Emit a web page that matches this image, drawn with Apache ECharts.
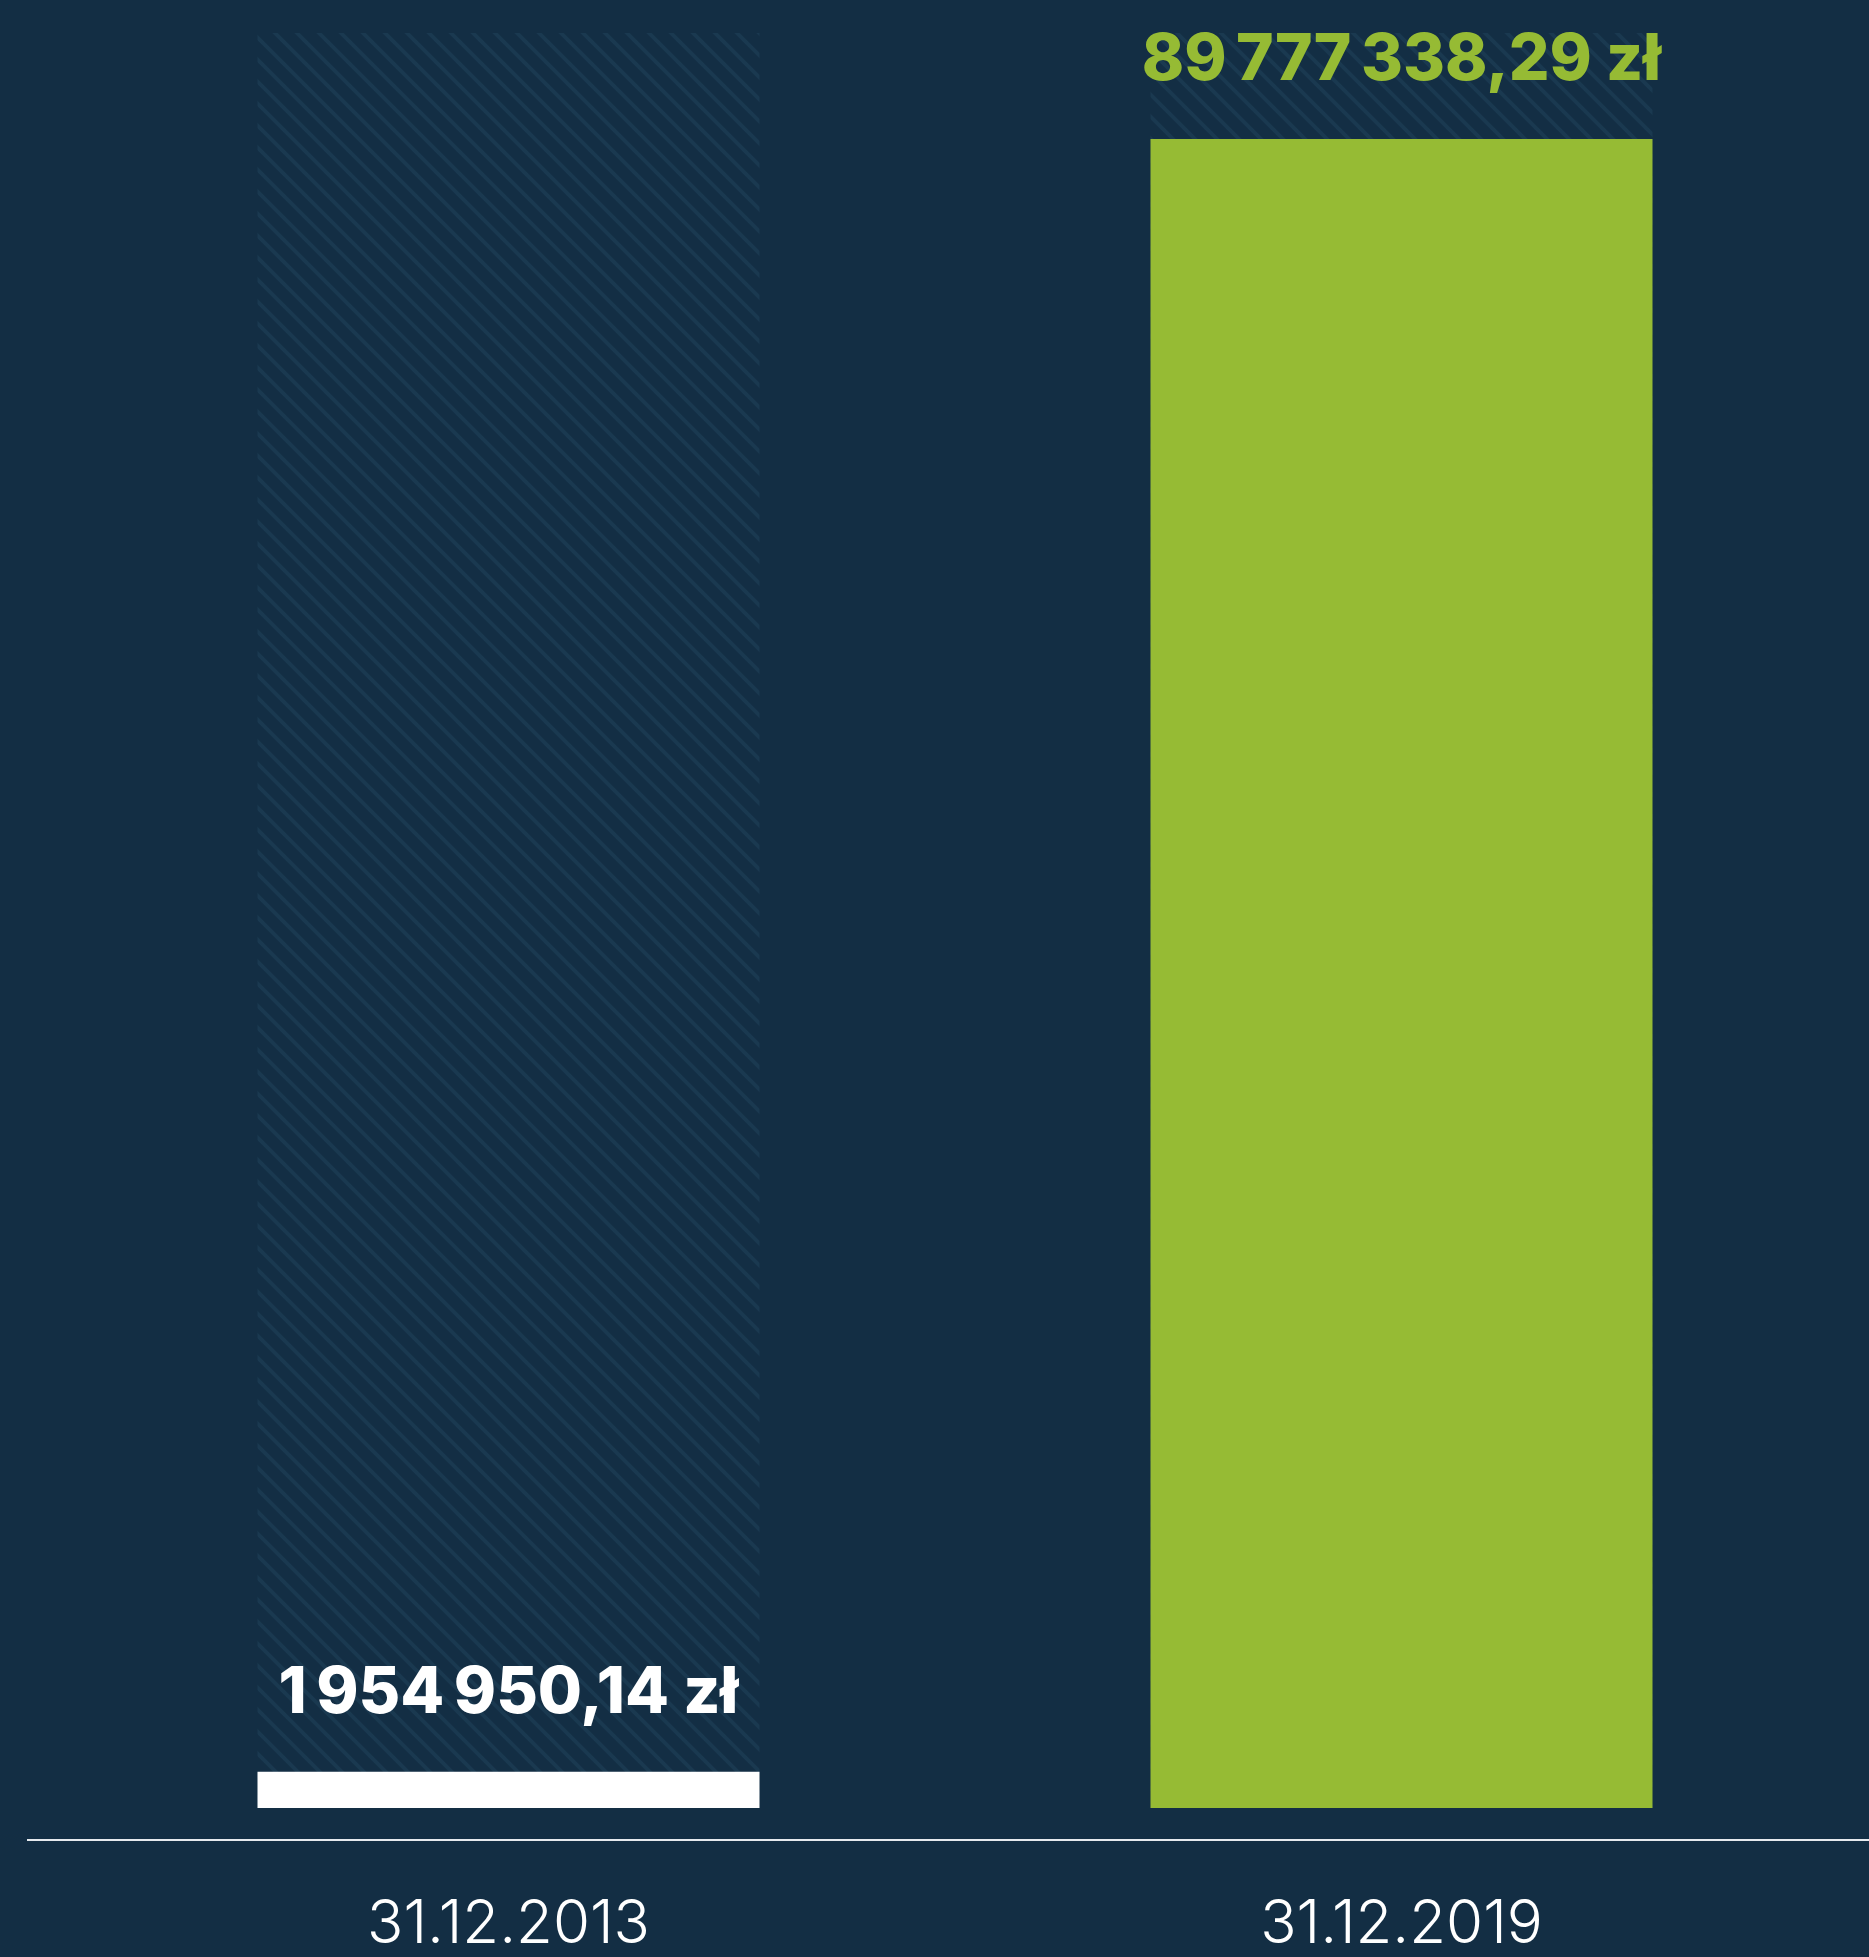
<!DOCTYPE html>
<html lang="pl">
<head>
  <meta charset="UTF-8">
  <title>Kapitał</title>
  <script src="https://cdn.jsdelivr.net/npm/echarts@6/dist/echarts.min.js"></script>
  <style>
    html, body { margin: 0; padding: 0; background: #132e44; }
    #chart { width: 1869px; height: 1957px; }
  </style>
</head>
<body>
<div id="chart"></div>
<script>
  // dane
  var categories = ['31.12.2013', '31.12.2019'];
  var values = [1954950.14, 89777338.29];
  var valueLabels = ['1\u202F954\u202F950,14 zł', '89\u202F777\u202F338,29 zł'];
  var barColors = ['#ffffff', '#96bb34'];
  var labelColors = ['#ffffff', '#96bb34'];

  // wzór ukośnych linii na tło słupków
  function makeHatch() {
    var s = 22;
    var c = document.createElement('canvas');
    c.width = s; c.height = s;
    var ctx = c.getContext('2d');
    ctx.fillStyle = '#132e44';
    ctx.fillRect(0, 0, s, s);
    ctx.strokeStyle = '#1a3950';
    ctx.lineWidth = 4;
    ctx.beginPath();
    ctx.moveTo(-2, -2); ctx.lineTo(s + 2, s + 2);
    ctx.moveTo(-2 - s, -2); ctx.lineTo(2, s + 2);
    ctx.moveTo(s - 2, -2); ctx.lineTo(2 * s + 2, s + 2);
    ctx.stroke();
    return c;
  }

  var chart = echarts.init(document.getElementById('chart'));
  chart.setOption({
    backgroundColor: '#132e44',
    animation: false,
    grid: { left: 62, right: 21, top: 33, bottom: 149, outerBoundsMode: 'none' },
    xAxis: {
      type: 'category',
      data: categories,
      axisLine: { show: false },
      axisTick: { show: false },
      axisLabel: {
        color: '#ffffff',
        fontFamily: 'Inter',
        fontWeight: 300,
        fontSize: 60,
        margin: 87
      }
    },
    yAxis: {
      type: 'value',
      min: 0,
      max: 95480000,
      show: false,
      splitLine: { show: false }
    },
    series: [{
      type: 'bar',
      barWidth: 502,
      showBackground: true,
      backgroundStyle: {
        color: { image: makeHatch(), repeat: 'repeat' }
      },
      data: values.map(function (v, i) {
        return {
          value: v,
          itemStyle: { color: barColors[i] },
          label: {
            show: true,
            position: 'top',
            distance: 46,
            formatter: valueLabels[i],
            color: labelColors[i],
            fontFamily: 'Inter',
            fontWeight: 800,
            fontSize: 64
          }
        };
      })
    }],
    graphic: [{
      type: 'line',
      shape: { x1: 27, y1: 1840, x2: 1869, y2: 1840 },
      style: { stroke: '#e6eaee', lineWidth: 2 }
    }]
  });
</script>
</body>
</html>
